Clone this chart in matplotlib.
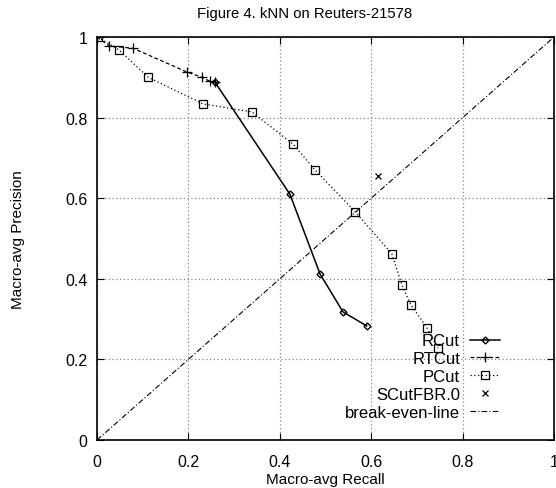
import numpy as np
import matplotlib
matplotlib.use("Agg")
import matplotlib.pyplot as plt

plt.rcParams['font.family'] = ['Liberation Sans', 'DejaVu Sans']

# values
rcut_recall = [0.258, 0.422, 0.488, 0.538, 0.590]
rcut_prec = [0.888, 0.610, 0.412, 0.318, 0.283]

rtcut_recall = [0.0, 0.026, 0.079, 0.197, 0.230, 0.247, 0.258]
rtcut_prec = [1.0, 0.978, 0.972, 0.913, 0.900, 0.890, 0.888]

pcut_recall = [0.002, 0.048, 0.112, 0.232, 0.339, 0.429, 0.477, 0.565,
               0.645, 0.667, 0.687, 0.722, 0.746]
pcut_prec = [1.0, 0.968, 0.900, 0.834, 0.814, 0.734, 0.670, 0.566,
             0.462, 0.385, 0.335, 0.278, 0.228]

scut_recall = [0.615]
scut_prec = [0.655]

ticks = [0, 0.2, 0.4, 0.6, 0.8, 1]
tick_labels = ["0", "0.2", "0.4", "0.6", "0.8", "1"]

fig = plt.figure(figsize=(5.56, 4.89), dpi=100)
ax = fig.add_axes([0.1745, 0.0982, 0.822, 0.8241])

ax.plot(rcut_recall, rcut_prec, color='black', lw=1.1, marker='D',
        ms=3.5, mfc='none', mew=1.0, label='RCut')
ax.plot(rtcut_recall, rtcut_prec, color='black', lw=0.9, ls=(0, (3, 2)),
        marker='+', ms=7, mew=0.9, label='RTCut')
ax.plot(pcut_recall, pcut_prec, color='black', lw=0.9, ls=(0, (1, 2)),
        marker='s', ms=5.5, mfc='none', mew=0.9, label='PCut')
ax.plot(scut_recall, scut_prec, color='black', ls='none', marker='x',
        ms=4.5, mew=0.9, label='SCutFBR.0')
ax.plot([0, 1], [0, 1], color='black', lw=0.8, ls=(0, (5, 2, 1, 2)),
        label='break-even-line')

ax.set_xlim(0, 1)
ax.set_ylim(0, 1)
ax.set_xticks(ticks)
ax.set_xticklabels(tick_labels)
ax.set_yticks(ticks)
ax.set_yticklabels(tick_labels)
ax.tick_params(direction='in', top=True, right=True, labelsize=11.5,
               length=5, width=0.8)
ax.tick_params(axis='x', pad=10)
ax.tick_params(axis='y', pad=7)
ax.grid(True, color='#888888', ls=(0, (1, 2)), lw=0.9)
for s in ax.spines.values():
    s.set_linewidth(1.2)

fig.text(305 / 556, 1 - 14 / 489, "Figure 4. kNN on Reuters-21578",
         fontsize=10.7, ha='center', va='center')
fig.text(325 / 556, 1 - 480 / 489, "Macro-avg Recall",
         fontsize=11, ha='center', va='center')
fig.text(18 / 556, 1 - 240 / 489, "Macro-avg Precision",
         fontsize=11, ha='center', va='center', rotation=90)

leg = ax.legend(loc='lower right', bbox_to_anchor=(0.882, 0.05),
                markerfirst=False, frameon=False, fontsize=12,
                handlelength=1.8, handletextpad=0.6, labelspacing=0.17,
                borderaxespad=0, borderpad=0)

fig.savefig("out.png", dpi=100)
